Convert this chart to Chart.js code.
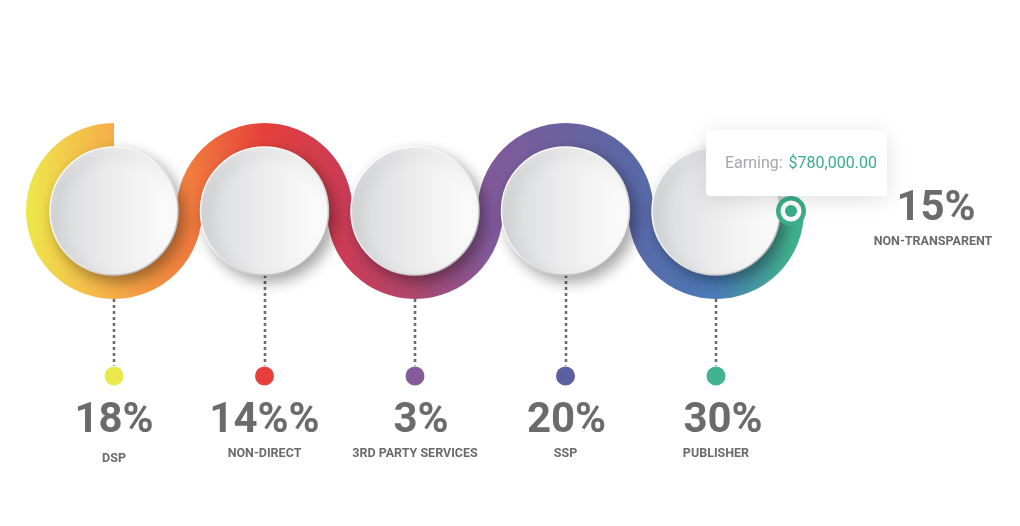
<!DOCTYPE html>
<html><head><meta charset="utf-8">
<script src="https://cdn.jsdelivr.net/npm/chart.js@4/dist/chart.umd.min.js"></script>
<style>html,body{margin:0;padding:0;background:#fff;}canvas{display:block;}</style>
</head><body>
<canvas id="c" width="1020" height="526"></canvas>
<script>
// ---- data ----
const categories = ['DSP', 'NON-DIRECT', '3RD PARTY SERVICES', 'SSP', 'PUBLISHER', 'NON-TRANSPARENT'];
const shareValues = [18, 14, 3, 20, 30, 15];
const shareLabels = ['18%', '14%%', '3%', '20%', '30%', '15%'];
const dotColors = ['#ebe84b', '#e93f3a', '#855b9a', '#5c60a1', '#3fb48f'];
const tooltipLabel = 'Earning:';
const tooltipValue = '$780,000.00';

// ---- layout / style ----
const L = {
  circleY: 211, circleR: 64, ribbonR: 75, ribbonW: 26,
  dotY: 376, dotR: 9.5, pctY: 432, labY: 457,
  sideDx: 220, sidePctY: 220, sideLabY: 245
};
const pctDx = [0, 0, 6, 1, 7];
const labDy = [5, 0, 0, 0, 0];
const ribbonStops = [
  [0.000, '#ece84a'], [0.057, '#f2c84a'], [0.113, '#f5ad46'], [0.211, '#f17b3d'],
  [0.306, '#e5403b'], [0.404, '#cc3b54'], [0.499, '#ae466d'], [0.596, '#80599a'],
  [0.694, '#6b619e'], [0.789, '#5869a8'], [0.887, '#4a7cb8'], [0.982, '#3faf8c']
];
const GREEN = '#3aae88';
const FONT = 'Roboto, "Liberation Sans", sans-serif';
const STEP = 150.5;

const circleCount = 5;
const circleData = categories.slice(0, circleCount).map((c, i) => ({x: i, y: L.circleY}));
const dotData = categories.slice(0, circleCount).map((c, i) => ({x: i, y: L.dotY}));

function circleFill(c) {
  const ch = c.chart;
  const px = (ch.scales && ch.scales.x && c.raw) ? ch.scales.x.getPixelForValue(c.raw.x) : NaN;
  if (!isFinite(px)) return '#eeeeee';
  const g = ch.ctx.createLinearGradient(px - L.circleR, 0, px + L.circleR, 0);
  g.addColorStop(0, '#d7d8da');
  g.addColorStop(0.5, '#ededee');
  g.addColorStop(1, '#fdfdfd');
  return g;
}
function circleBorder(c) {
  const ch = c.chart;
  const ok = ch.scales && ch.scales.x && ch.scales.y && c.raw;
  const px = ok ? ch.scales.x.getPixelForValue(c.raw.x) : NaN;
  const py = ok ? ch.scales.y.getPixelForValue(c.raw.y) : NaN;
  if (!isFinite(px) || !isFinite(py)) return '#bbbbbb';
  const g = ch.ctx.createLinearGradient(px - L.circleR, py - L.circleR, px + L.circleR, py + L.circleR);
  g.addColorStop(0, '#ffffff');
  g.addColorStop(0.45, '#f2f2f2');
  g.addColorStop(1, '#a4a4a4');
  return g;
}

const infographic = {
  id: 'infographic',
  beforeDatasetsDraw(chart) {
    const {ctx, scales: {x, y}} = chart;
    const cy = y.getPixelForValue(L.circleY);
    const dy = y.getPixelForValue(L.dotY);
    ctx.save();
    ctx.strokeStyle = '#6e6e6e';
    ctx.lineWidth = 2.6;
    ctx.setLineDash([3, 3]);
    for (let i = 0; i < circleCount; i++) {
      const px = Math.round(x.getPixelForValue(i));
      ctx.beginPath();
      ctx.moveTo(px, cy + L.circleR);
      ctx.lineTo(px, dy - L.dotR - 1);
      ctx.stroke();
    }
    ctx.restore();
    const x0 = x.getPixelForValue(0), xn = x.getPixelForValue(circleCount - 1);
    const outer = L.ribbonR + L.ribbonW / 2;
    const g = ctx.createLinearGradient(x0 - outer, 0, xn + outer, 0);
    ribbonStops.forEach(s => g.addColorStop(s[0], s[1]));
    ctx.save();
    ctx.strokeStyle = g;
    ctx.lineWidth = L.ribbonW;
    ctx.lineCap = 'butt';
    ctx.beginPath();
    for (let i = 0; i < circleCount; i++) {
      const px = x.getPixelForValue(i);
      if (i === 0) ctx.arc(px, cy, L.ribbonR, -Math.PI / 2, 0, true);
      else if (i % 2 === 1) ctx.arc(px, cy, L.ribbonR, Math.PI, 2 * Math.PI, false);
      else ctx.arc(px, cy, L.ribbonR, Math.PI, 0, true);
    }
    ctx.stroke();
    ctx.restore();
  },
  beforeDatasetDraw(chart, args) {
    chart.ctx.save();
    if (args.index === 0) {
      chart.ctx.shadowColor = 'rgba(0,0,0,0.35)';
      chart.ctx.shadowBlur = 14;
      chart.ctx.shadowOffsetX = 5;
      chart.ctx.shadowOffsetY = 6;
    }
  },
  afterDatasetDraw(chart) {
    chart.ctx.restore();
  },
  afterDatasetsDraw(chart) {
    const {ctx, scales: {x, y}} = chart;
    const cy = y.getPixelForValue(L.circleY);
    ctx.save();
    ctx.textAlign = 'center';
    ctx.textBaseline = 'alphabetic';
    ctx.fillStyle = '#6b6b6b';
    for (let i = 0; i < circleCount; i++) {
      const px = x.getPixelForValue(i);
      ctx.font = 'bold 42px ' + FONT;
      ctx.fillText(shareLabels[i], px + pctDx[i], y.getPixelForValue(L.pctY));
      ctx.font = 'bold 12.5px ' + FONT;
      ctx.fillText(categories[i], px, y.getPixelForValue(L.labY) + labDy[i]);
    }
    const mx = x.getPixelForValue(circleCount - 1) + L.ribbonR;
    const my = cy;
    ctx.fillStyle = GREEN;
    ctx.beginPath(); ctx.arc(mx, my, 15, 0, Math.PI * 2); ctx.fill();
    ctx.fillStyle = '#ffffff';
    ctx.beginPath(); ctx.arc(mx, my, 10.5, 0, Math.PI * 2); ctx.fill();
    ctx.fillStyle = GREEN;
    ctx.beginPath(); ctx.arc(mx, my, 6, 0, Math.PI * 2); ctx.fill();
    const sx = x.getPixelForValue(circleCount - 1) + L.sideDx;
    ctx.fillStyle = '#6b6b6b';
    ctx.font = 'bold 42px ' + FONT;
    ctx.fillText(shareLabels[circleCount], sx, y.getPixelForValue(L.sidePctY));
    ctx.font = 'bold 12.5px ' + FONT;
    ctx.fillText(categories[circleCount], sx - 3, y.getPixelForValue(L.sideLabY));
    // tooltip
    ctx.font = '16px ' + FONT;
    const w1 = ctx.measureText(tooltipLabel + ' ').width;
    const bw = 181, bh = 66;
    const bx = mx - 85, by = my - 81;
    ctx.save();
    ctx.shadowColor = 'rgba(0,0,0,0.12)';
    ctx.shadowBlur = 22;
    ctx.shadowOffsetY = 4;
    ctx.fillStyle = '#ffffff';
    ctx.beginPath();
    ctx.roundRect(bx, by, bw, bh, 4);
    ctx.fill();
    ctx.restore();
    ctx.textAlign = 'left';
    ctx.textBaseline = 'middle';
    ctx.fillStyle = '#a6a6ae';
    ctx.fillText(tooltipLabel, bx + 19, by + 34);
    ctx.fillStyle = GREEN;
    ctx.fillText(tooltipValue, bx + 19 + w1 + 2, by + 34);
    ctx.restore();
  }
};

new Chart(document.getElementById('c'), {
  type: 'scatter',
  data: {
    datasets: [
      {label: 'circles', data: circleData, pointRadius: L.circleR, borderWidth: 1.5,
       backgroundColor: circleFill, borderColor: circleBorder},
      {label: 'dots', data: dotData, pointRadius: L.dotR, borderWidth: 0, backgroundColor: dotColors}
    ]
  },
  options: {
    responsive: false,
    animation: false,
    events: [],
    layout: {padding: 0, autoPadding: false},
    plugins: {legend: {display: false}, tooltip: {enabled: false}},
    scales: {
      x: {type: 'linear', display: false, min: -114 / STEP, max: (1020 - 114) / STEP},
      y: {type: 'linear', display: false, reverse: true, min: 0, max: 526}
    }
  },
  plugins: [infographic]
});
</script>
</body></html>
